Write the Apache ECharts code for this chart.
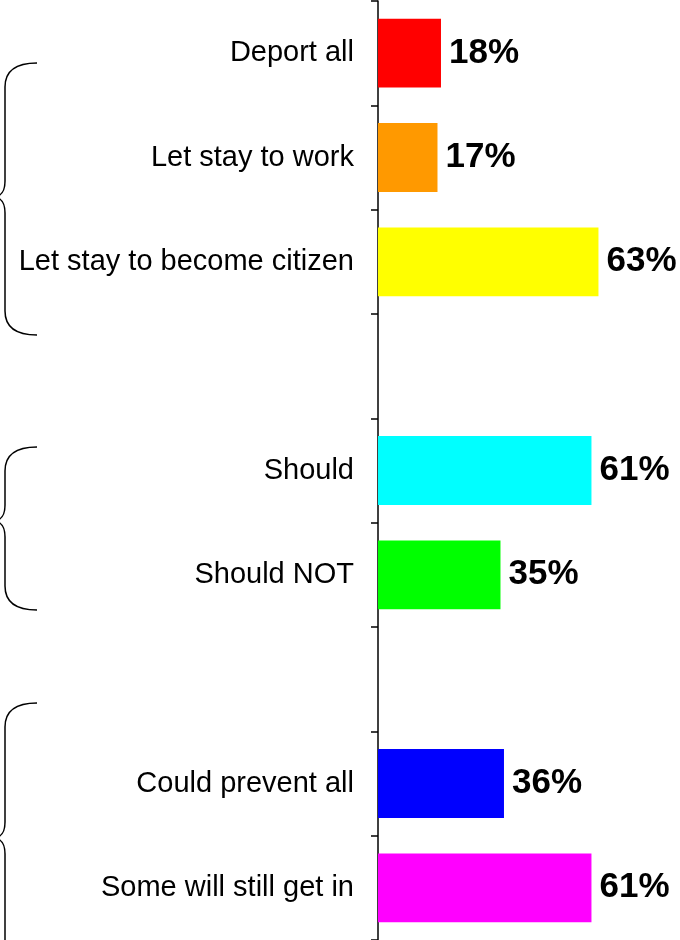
<!DOCTYPE html>
<html>
<head>
<meta charset="utf-8">
<script src="https://cdn.jsdelivr.net/npm/echarts@6/dist/echarts.min.js"></script>
<style>
  html, body { margin: 0; padding: 0; background: #fff; }
  #main { width: 680px; height: 940px; }
</style>
</head>
<body>
<div id="main"></div>
<script>
// categories top to bottom, '' = empty gap row
var categories = ['Deport all', 'Let stay to work', 'Let stay to become citizen', '',
                  'Should', 'Should NOT', '',
                  'Could prevent all', 'Some will still get in'];
var values = [18, 17, 63, '-', 61, 35, '-', 36, 61];
var barColors = ['#FF0000', '#FF9900', '#FFFF00', null, '#00FFFF', '#00FF00', null, '#0000FF', '#FF00FF'];

var braceStyle = { stroke: '#000', lineWidth: 1.5, fill: null };

function curve(x1, y1, cx1, cy1, cx2, cy2, x2, y2) {
  return { type: 'bezierCurve', silent: true,
    shape: { x1: x1, y1: y1, cpx1: cx1, cpy1: cy1, cpx2: cx2, cpy2: cy2, x2: x2, y2: y2 },
    style: braceStyle };
}
function vline(x, y1, y2) {
  return { type: 'line', silent: true,
    shape: { x1: x, y1: y1, x2: x, y2: y2 }, style: braceStyle };
}
// curly brace opening right: top y, tip y, bottom y
function brace(y0, ym, y1) {
  return [
    curve(37, y0, 18, y0, 5, y0 + 6, 5, y0 + 24),
    vline(5, y0 + 24, ym - 16),
    curve(5, ym - 16, 5, ym - 6, 2, ym - 2, -4, ym),
    curve(-4, ym, 2, ym + 2, 5, ym + 6, 5, ym + 16),
    vline(5, ym + 16, y1 - 24),
    curve(5, y1 - 24, 5, y1 - 6, 18, y1, 37, y1)
  ];
}

var chart = echarts.init(document.getElementById('main'));

var option = {
  animation: false,
  // plot is cut at the right edge: 302px shows ~86% of the 0-100 scale
  grid: { left: 378, top: 1, right: 0, height: 940 },
  xAxis: {
    type: 'value',
    min: 0,
    max: 86.3,
    show: false
  },
  yAxis: {
    type: 'category',
    inverse: true,
    data: categories,
    axisLine: { show: true, lineStyle: { color: '#000', width: 1.5 } },
    axisTick: { show: true, length: 7, lineStyle: { color: '#000', width: 1.5 } },
    axisLabel: {
      margin: 24,
      color: '#000',
      fontSize: 29,
      padding: [4, 0, 0, 0],
      fontFamily: 'Liberation Sans, Arial, sans-serif'
    }
  },
  series: [{
    type: 'bar',
    barCategoryGap: '34%',
    data: values.map(function (v, i) {
      return { value: v, itemStyle: { color: barColors[i] } };
    }),
    label: {
      show: true,
      position: 'right',
      distance: 8,
      formatter: '{c}%',
      color: '#000',
      fontSize: 35,
      fontWeight: 'bold',
      fontFamily: 'Liberation Sans, Arial, sans-serif'
    }
  }],
  graphic: [].concat(
    brace(63, 197, 335),
    brace(447, 521, 610),
    brace(703, 838, 975)
  )
};

chart.setOption(option);
</script>
</body>
</html>
